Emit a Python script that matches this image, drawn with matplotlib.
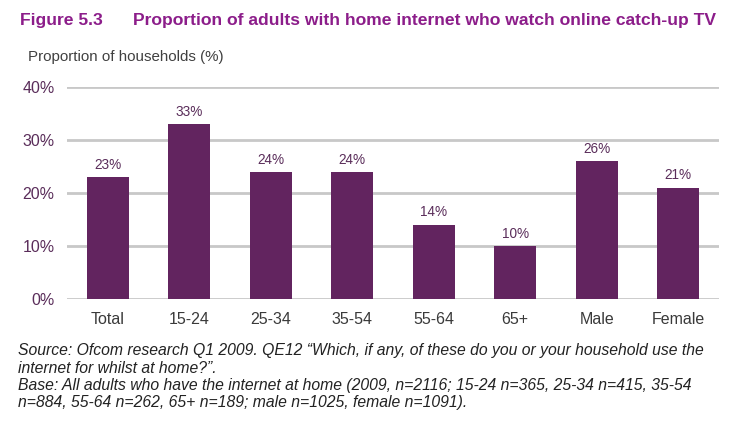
import matplotlib.pyplot as plt
from matplotlib.ticker import PercentFormatter

categories = ["Total", "15-24", "25-34", "35-54", "55-64", "65+", "Male", "Female"]
values = [23, 33, 24, 24, 14, 10, 26, 21]
y_ticks = [0, 10, 20, 30, 40]

BAR_COLOR = "#62245F"
TITLE_COLOR = "#8C1D8A"
LABEL_COLOR = "#5A2D5A"
TEXT_COLOR = "#404040"

plt.rcParams["font.family"] = ["Liberation Sans", "DejaVu Sans"]

fig = plt.figure(figsize=(7.29, 4.33), dpi=100)
ax = fig.add_axes([67 / 729, 1 - 299 / 433, (719 - 67) / 729, (299 - 87) / 433])

x = range(len(categories))
bars = ax.bar(x, values, width=0.52, color=BAR_COLOR, zorder=3)
for rect, v in zip(bars, values):
    ax.text(rect.get_x() + rect.get_width() / 2, v + 1.0, f"{v}%",
            ha="center", va="bottom", fontsize=9.8, color=LABEL_COLOR)

ax.set_xlim(-0.5, len(categories) - 0.5)
ax.set_ylim(0, 40)
ax.set_yticks(y_ticks)
ax.yaxis.set_major_formatter(PercentFormatter(decimals=0))
ax.set_xticks(list(x))
ax.set_xticklabels(categories)
ax.tick_params(axis="both", length=0, labelsize=11.5, labelcolor=LABEL_COLOR)
ax.tick_params(axis="x", pad=9, labelcolor="#3A3A3A")
ax.tick_params(axis="y", pad=9)
ax.grid(axis="y", color="#C8C8C8", linewidth=2, zorder=0)
for s in ax.spines.values():
    s.set_visible(False)

fig.text(20 / 729, 1 - 21 / 433, "Figure 5.3", fontsize=12.6, fontweight="bold",
         color=TITLE_COLOR, va="center", ha="left")
fig.text(133 / 729, 1 - 21 / 433, "Proportion of adults with home internet who watch online catch-up TV",
         fontsize=12.6, fontweight="bold", color=TITLE_COLOR, va="center", ha="left")
fig.text(28 / 729, 1 - 57 / 433, "Proportion of households (%)", fontsize=10.9,
         color=TEXT_COLOR, va="center", ha="left")

source_lines = [
    "Source: Ofcom research Q1 2009. QE12 \u201cWhich, if any, of these do you or your household use the",
    "internet for whilst at home?\u201d.",
    "Base: All adults who have the internet at home (2009, n=2116; 15-24 n=365, 25-34 n=415, 35-54",
    "n=884, 55-64 n=262, 65+ n=189; male n=1025, female n=1091).",
]
for i, line in enumerate(source_lines):
    fig.text(18 / 729, 1 - (351 + 17.3 * i) / 433, line, fontsize=11.3, style="italic",
             color="#222222", va="center", ha="left")

fig.savefig("out.png", dpi=100)
